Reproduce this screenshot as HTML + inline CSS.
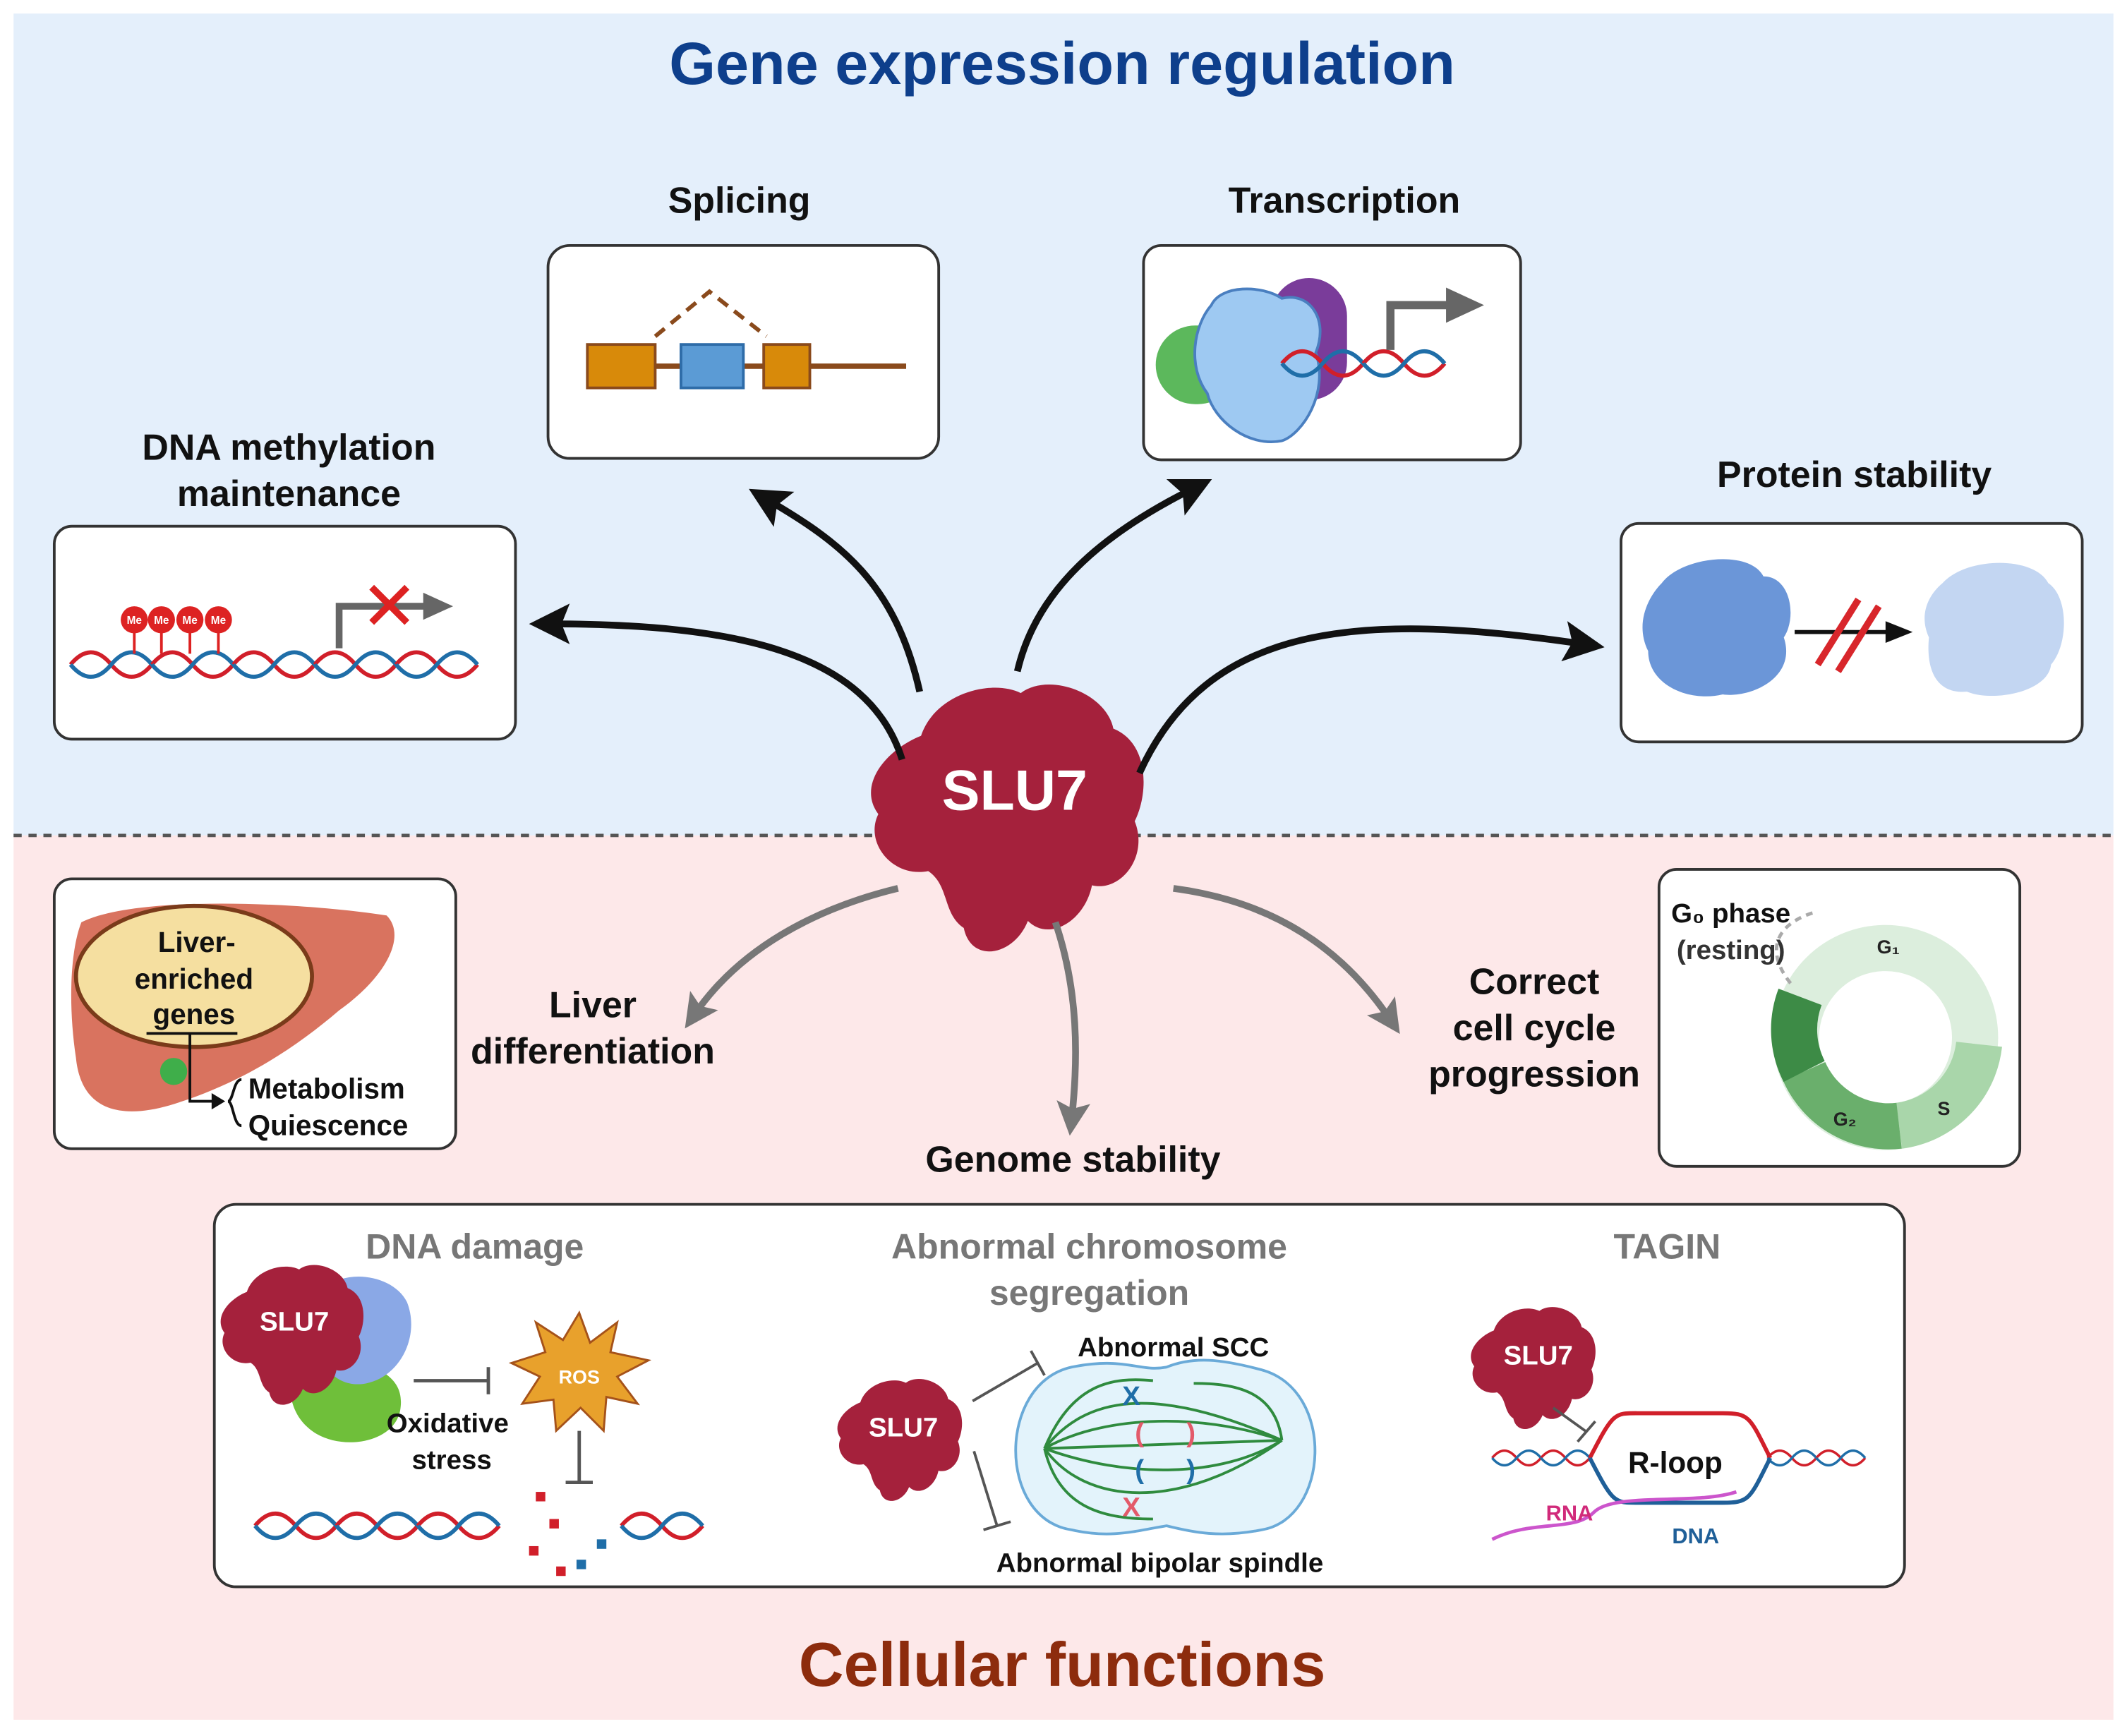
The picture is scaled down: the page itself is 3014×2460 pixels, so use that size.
<!DOCTYPE html>
<html><head><meta charset="utf-8"><style>
html,body{margin:0;padding:0;background:#fff;}
svg{display:block;}
text{font-family:"Liberation Sans",sans-serif;font-weight:bold;}
</style></head><body>
<svg width="3014" height="2460" viewBox="0 0 1568 1280" preserveAspectRatio="none" xmlns="http://www.w3.org/2000/svg">
<defs>
<marker id="ab" markerWidth="6" markerHeight="6" refX="3" refY="3" orient="auto" markerUnits="strokeWidth"><path d="M0,0 L6,3 L0,6 L1.2,3 z" fill="#111"/></marker>
<marker id="ag" markerWidth="5" markerHeight="5" refX="2.5" refY="2.5" orient="auto" markerUnits="strokeWidth"><path d="M0,0 L5,2.5 L0,5 L1,2.5 z" fill="#777"/></marker>
<g id="blob"><path d="M-60,-50 C-50,-80 -10,-90 10,-80 C30,-95 70,-80 75,-55 C100,-45 100,-10 90,10 C100,35 80,60 60,55 C55,80 30,95 15,80 C5,105 -25,110 -30,85 C-45,75 -40,55 -55,45 C-80,50 -100,25 -90,5 C-105,-15 -85,-40 -60,-50 z" fill="#a5213c"/></g>
<g id="dna"><path d="M0,0 c10,-12 20,-12 30,0 s20,12 30,0" stroke="#d11f2a" stroke-width="3" fill="none"/><path d="M0,0 c10,12 20,12 30,0 s20,-12 30,0" stroke="#1f6ea8" stroke-width="3" fill="none"/></g>
</defs>
<rect x="10" y="10" width="1548" height="606" fill="#e4effb"/>
<rect x="10" y="616" width="1548" height="652" fill="#fde8e9"/>
<line x1="10" y1="616" x2="1558" y2="616" stroke="#555" stroke-width="2.5" stroke-dasharray="6,5"/>
<text x="783" y="62" font-size="44" fill="#0e3f8c" text-anchor="middle">Gene expression regulation</text>
<text x="783" y="1243" font-size="46" fill="#8d2c0d" text-anchor="middle">Cellular functions</text>

<g font-size="27" fill="#111" text-anchor="middle">
<text x="545" y="157">Splicing</text>
<text x="991" y="157">Transcription</text>
<text x="213" y="339">DNA methylation</text>
<text x="213" y="373">maintenance</text>
<text x="1367" y="359">Protein stability</text>
<text x="437" y="750">Liver</text>
<text x="437" y="784">differentiation</text>
<text x="791" y="864">Genome stability</text>
<text x="1131" y="733">Correct</text>
<text x="1131" y="767">cell cycle</text>
<text x="1131" y="801">progression</text>
</g>

<g fill="#fff" stroke="#333" stroke-width="2">
<rect x="40" y="388" width="340" height="157" rx="13"/>
<rect x="404" y="181" width="288" height="157" rx="16"/>
<rect x="843" y="181" width="278" height="158" rx="13"/>
<rect x="1195" y="386" width="340" height="161" rx="13"/>
<rect x="40" y="648" width="296" height="199" rx="13"/>
<rect x="1223" y="641" width="266" height="219" rx="13"/>
<rect x="158" y="888" width="1246" height="282" rx="16"/>
</g>

<!-- splicing -->
<line x1="480" y1="270" x2="668" y2="270" stroke="#8a4a1c" stroke-width="4"/>
<rect x="433" y="254" width="50" height="32" fill="#d88a0a" stroke="#8a4a1c" stroke-width="2"/>
<rect x="502" y="254" width="46" height="32" fill="#5b9bd5" stroke="#2e6ca8" stroke-width="2"/>
<rect x="563" y="254" width="34" height="32" fill="#d88a0a" stroke="#8a4a1c" stroke-width="2"/>
<path d="M483,248 L523,215 L565,248" stroke="#8a4a1c" stroke-width="3" fill="none" stroke-dasharray="9,6"/>

<!-- transcription -->
<rect x="852" y="240" width="60" height="58" rx="29" fill="#5cb85c"/>
<rect x="937" y="205" width="56" height="90" rx="28" fill="#7a3c9a"/>
<path d="M893,225 C900,210 930,210 945,220 C965,215 980,235 970,260 C980,290 960,320 945,325 C920,330 895,310 890,290 C875,270 880,240 893,225z" fill="#9ec9f2" stroke="#4a7fc0" stroke-width="2"/>
<use href="#dna" x="945" y="268"/><use href="#dna" x="1005" y="268"/>
<path d="M1025,258 L1025,225 L1070,225" stroke="#666" stroke-width="6" fill="none"/>
<path d="M1066,212 L1094,225 L1066,238z" fill="#666"/>

<!-- methylation -->
<use href="#dna" x="52" y="490"/><use href="#dna" x="112" y="490"/><use href="#dna" x="172" y="490"/><use href="#dna" x="232" y="490"/><use href="#dna" x="292" y="490"/>
<g fill="#d22" font-size="9" text-anchor="middle">
<line x1="99" y1="465" x2="99" y2="482" stroke="#d22" stroke-width="2"/><circle cx="99" cy="457" r="10"/>
<line x1="119" y1="465" x2="119" y2="482" stroke="#d22" stroke-width="2"/><circle cx="119" cy="457" r="10"/>
<line x1="140" y1="465" x2="140" y2="482" stroke="#d22" stroke-width="2"/><circle cx="140" cy="457" r="10"/>
<line x1="161" y1="465" x2="161" y2="482" stroke="#d22" stroke-width="2"/><circle cx="161" cy="457" r="10"/>
</g>
<g fill="#fff" font-size="8" text-anchor="middle"><text x="99" y="460">Me</text><text x="119" y="460">Me</text><text x="140" y="460">Me</text><text x="161" y="460">Me</text></g>
<path d="M250,478 L250,447 L315,447" stroke="#666" stroke-width="5" fill="none"/>
<path d="M312,437 L334,447 L312,457z" fill="#666"/>
<path d="M274,433 L300,459 M300,433 L274,459" stroke="#d22" stroke-width="5"/>

<!-- protein stability -->
<path d="M1225,430 C1240,410 1290,405 1300,425 C1320,425 1325,455 1315,470 C1325,500 1290,515 1270,512 C1245,518 1215,505 1215,480 C1205,460 1215,440 1225,430z" fill="#6b96d8"/>
<path d="M1432,430 C1450,410 1500,410 1510,430 C1525,440 1525,475 1512,490 C1510,510 1470,518 1450,510 C1425,512 1420,490 1422,470 C1415,455 1420,440 1432,430z" fill="#c3d6f2"/>
<line x1="1323" y1="466" x2="1395" y2="466" stroke="#111" stroke-width="3"/>
<path d="M1390,458 L1410,466 L1390,474z" fill="#111"/>
<path d="M1340,490 L1370,442 M1355,495 L1385,447" stroke="#d8262b" stroke-width="5"/>

<!-- SLU7 center -->
<use href="#blob" transform="translate(742,595) scale(1.05)"/>
<text x="748" y="597" font-size="42" fill="#fff" text-anchor="middle">SLU7</text>

<!-- black arrows -->
<g stroke="#111" stroke-width="5" fill="none" marker-end="url(#ab)">
<path d="M665,560 C640,480 540,460 405,460"/>
<path d="M678,510 C660,430 620,400 565,368"/>
<path d="M750,495 C765,430 820,390 880,360"/>
<path d="M840,570 C890,460 1000,450 1168,475"/>
</g>
<g stroke="#777" stroke-width="5" fill="none" marker-end="url(#ag)">
<path d="M662,655 C600,670 545,700 512,748"/>
<path d="M778,680 C795,730 795,780 790,825"/>
<path d="M865,655 C940,665 990,700 1025,752"/>
</g>

<!-- liver -->
<path d="M60,680 C100,660 220,665 285,675 C300,690 285,720 250,745 C215,775 175,800 125,815 C90,825 60,820 56,780 C50,740 52,700 60,680z" fill="#d9735f"/>
<circle cx="128" cy="790" r="10" fill="#3fae4a"/>
<ellipse cx="143" cy="720" rx="87" ry="52" fill="#f5dfa0" stroke="#7a3b1a" stroke-width="3"/>
<g font-size="21" fill="#111" text-anchor="middle"><text x="145" y="702">Liver-</text><text x="143" y="729">enriched</text><text x="143" y="755">genes</text></g>
<path d="M108,762 L175,762 M140,762 L140,812 L160,812" stroke="#111" stroke-width="2" fill="none"/>
<path d="M156,806 L166,812 L156,818z" fill="#111"/>
<path d="M178,796 C172,796 172,812 168,812 C172,812 172,830 178,830" stroke="#111" stroke-width="2" fill="none"/>
<g font-size="21" fill="#111"><text x="183" y="810">Metabolism</text><text x="183" y="837">Quiescence</text></g>

<!-- cell cycle -->
<circle cx="1390" cy="765" r="66" fill="none" stroke="#dceedd" stroke-width="34"/>
<path d="M1459,770 A68,68 0 0 1 1400,830" stroke="#a9d6aa" stroke-width="34" fill="none"/>
<path d="M1400,830 A68,68 0 0 1 1330,790" stroke="#6aaf6c" stroke-width="34" fill="none"/>
<path d="M1330,790 A68,68 0 0 1 1327,735" stroke="#3d8b46" stroke-width="34" fill="none"/>
<path d="M1320,725 C1300,700 1310,680 1340,672" stroke="#aaa" stroke-width="2.5" fill="none" stroke-dasharray="5,4"/>
<text x="1232" y="680" font-size="20" fill="#111">G₀ phase</text>
<text x="1236" y="707" font-size="20" fill="#333" font-weight="normal">(resting)</text>
<text x="1392" y="703" font-size="14" fill="#222" text-anchor="middle">G₁</text>
<text x="1433" y="822" font-size="14" fill="#222" text-anchor="middle">S</text>
<text x="1360" y="830" font-size="14" fill="#222" text-anchor="middle">G₂</text>

<!-- genome box -->
<g font-size="26" fill="#777" text-anchor="middle">
<text x="350" y="928">DNA damage</text>
<text x="803" y="928">Abnormal chromosome</text>
<text x="803" y="962">segregation</text>
<text x="1229" y="928">TAGIN</text>
</g>
<!-- DNA damage -->
<path d="M210,1000 C205,980 230,975 250,990 C270,1010 300,1010 295,1040 C290,1065 250,1070 230,1055 C210,1040 215,1020 210,1000z" fill="#6fbf3a"/>
<path d="M240,950 C255,935 290,940 300,960 C310,985 295,1015 270,1020 C245,1025 230,1000 235,980z" fill="#8aa8e6"/>
<use href="#blob" transform="translate(215,980) scale(0.55)"/>
<text x="217" y="981" font-size="20" fill="#fff" text-anchor="middle">SLU7</text>
<path d="M305,1018 L360,1018 M360,1008 L360,1028" stroke="#555" stroke-width="2.5"/>
<path d="M427,968 L435,990 L455,975 L450,997 L478,1003 L455,1015 L470,1035 L447,1030 L445,1055 L428,1038 L410,1055 L408,1032 L385,1035 L398,1015 L377,1005 L402,997 L395,975 L415,988z" fill="#e8a12c" stroke="#a5521a" stroke-width="1.5"/>
<text x="427" y="1020" font-size="14" fill="#fff" text-anchor="middle">ROS</text>
<text x="330" y="1056" font-size="20" fill="#111" text-anchor="middle">Oxidative</text>
<text x="333" y="1083" font-size="20" fill="#111" text-anchor="middle">stress</text>
<path d="M427,1055 L427,1093 M417,1093 L437,1093" stroke="#555" stroke-width="2.5"/>
<use href="#dna" x="188" y="1125"/><use href="#dna" x="248" y="1125"/><use href="#dna" x="308" y="1125"/><use href="#dna" x="458" y="1125"/>
<g fill="#d11f2a"><rect x="395" y="1100" width="7" height="7"/><rect x="405" y="1120" width="7" height="7"/><rect x="390" y="1140" width="7" height="7"/><rect x="410" y="1155" width="7" height="7"/></g>
<g fill="#1f6ea8"><rect x="425" y="1150" width="7" height="7"/><rect x="440" y="1135" width="7" height="7"/></g>
<!-- chromosome -->
<use href="#blob" transform="translate(663,1058) scale(0.48)"/>
<text x="666" y="1059" font-size="20" fill="#fff" text-anchor="middle">SLU7</text>
<path d="M717,1033 L765,1005 M760,996 L770,1014" stroke="#555" stroke-width="2"/>
<path d="M718,1070 L735,1125 M725,1128 L745,1122" stroke="#555" stroke-width="2"/>
<text x="865" y="1000" font-size="20" fill="#111" text-anchor="middle">Abnormal SCC</text>
<text x="855" y="1159" font-size="20" fill="#111" text-anchor="middle">Abnormal bipolar spindle</text>
<path d="M790,1008 C830,1000 840,1012 860,1008 C880,1000 900,1002 930,1010 C985,1025 980,1120 930,1128 C900,1134 880,1130 860,1125 C840,1128 820,1135 790,1128 C735,1120 735,1020 790,1008z" fill="#e3f3fb" stroke="#6aaad8" stroke-width="2"/>
<g stroke="#2f8b3e" stroke-width="2" fill="none">
<path d="M770,1068 C800,1030 850,1020 945,1062"/><path d="M770,1068 C810,1045 880,1040 945,1062"/>
<path d="M770,1068 L945,1062"/><path d="M770,1068 C830,1090 900,1090 945,1062"/>
<path d="M770,1068 C800,1110 870,1115 945,1062"/><path d="M770,1068 C790,1020 820,1015 850,1018"/>
<path d="M945,1062 C940,1025 910,1020 880,1020"/><path d="M770,1068 C780,1110 810,1120 850,1120"/>
</g>
<text x="834" y="1036" font-size="20" fill="#1f6ea8" text-anchor="middle">X</text>
<text x="834" y="1118" font-size="20" fill="#e35a6a" text-anchor="middle">X</text>
<g font-size="20" text-anchor="middle"><text x="840" y="1063" fill="#e35a6a">(</text><text x="878" y="1063" fill="#e35a6a">)</text><text x="840" y="1090" fill="#1f6ea8">(</text><text x="878" y="1090" fill="#1f6ea8">)</text></g>
<!-- TAGIN -->
<use href="#blob" transform="translate(1130,1005) scale(0.48)"/>
<text x="1134" y="1006" font-size="20" fill="#fff" text-anchor="middle">SLU7</text>
<path d="M1145,1038 L1170,1056 M1163,1063 L1176,1048" stroke="#555" stroke-width="2"/>
<g transform="translate(1100,1075) scale(0.6,0.6)"><use href="#dna" x="0" y="0"/><use href="#dna" x="60" y="0"/></g>
<g transform="translate(1303,1075) scale(0.6,0.6)"><use href="#dna" x="0" y="0"/><use href="#dna" x="60" y="0"/></g>
<path d="M1172,1075 C1190,1040 1190,1042 1210,1042 L1270,1042 C1290,1042 1290,1045 1305,1075" stroke="#d11f2a" stroke-width="3" fill="none"/>
<path d="M1172,1075 C1190,1110 1190,1108 1210,1108 L1270,1108 C1290,1108 1290,1105 1305,1075" stroke="#1f5f98" stroke-width="3" fill="none"/>
<path d="M1100,1135 C1130,1120 1160,1130 1175,1115 C1190,1100 1250,1110 1280,1100" stroke="#cc55cc" stroke-width="2.5" fill="none"/>
<text x="1235" y="1086" font-size="22" fill="#111" text-anchor="middle">R-loop</text>
<text x="1157" y="1121" font-size="16" fill="#d12a7a" text-anchor="middle">RNA</text>
<text x="1250" y="1138" font-size="16" fill="#1f5f98" text-anchor="middle">DNA</text>
</svg>
</body></html>
